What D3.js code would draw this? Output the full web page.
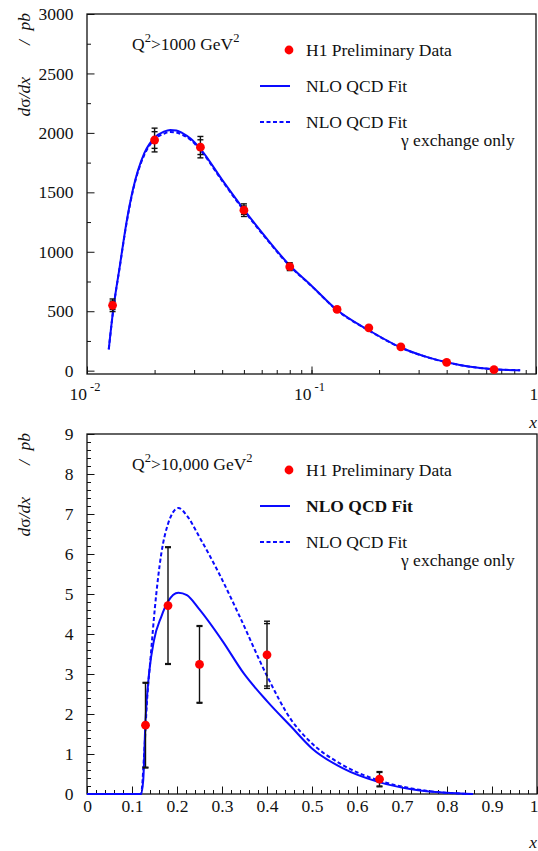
<!DOCTYPE html>
<html>
<head>
<meta charset="utf-8">
<script src="https://cdn.jsdelivr.net/npm/d3@7"></script>
<style>
  html, body { margin: 0; padding: 0; background: #fff; }
  svg { display: block; font-family: "Liberation Serif", "Times New Roman", serif; }
</style>
</head>
<body>
<div id="chart-area"></div>
<script>
// ---- data ----
// Q2 > 1000 GeV2 (log x)
const X_TOP = [0.013, 0.02, 0.032, 0.05, 0.08, 0.13, 0.18, 0.25, 0.40, 0.65];
const Y_TOP = [550, 1940, 1880, 1350, 875, 515, 360, 200, 70, 8];
const TOT_TOP = [53, 100, 90, 53, 33, 20, 15, 10, 6, 4];
const STAT_TOP = [35, 70, 62, 35, 20, 14, 10, 7, 4, 3];

const FIT_X_TOP = [0.0125, 0.0131, 0.014, 0.015, 0.016, 0.018, 0.020, 0.022, 0.0235, 0.025, 0.0265, 0.029, 0.032, 0.040, 0.050, 0.063, 0.080, 0.10, 0.13, 0.18, 0.25, 0.32, 0.40, 0.50, 0.65, 0.85];
const FIT_TOP = [180, 520, 880, 1250, 1520, 1830, 1960, 2010, 2025, 2020, 2000, 1950, 1865, 1605, 1355, 1115, 885, 715, 510, 340, 195, 120, 70, 35, 12, 4];
const GAMMA_TOP = [180, 515, 875, 1240, 1510, 1815, 1945, 1993, 2008, 2003, 1986, 1940, 1855, 1597, 1347, 1108, 880, 712, 508, 338, 194, 119, 70, 35, 12, 4];

// Q2 > 10,000 GeV2 (linear x)
const X_BOT = [0.13, 0.18, 0.25, 0.40, 0.65];
const Y_BOT = [1.72, 4.71, 3.24, 3.48, 0.37];
const TOT_BOT = [1.07, 1.47, 0.97, 0.84, 0.19];
const STAT_BOT = [1.05, 1.45, 0.95, 0.78, 0.17];

const FIT_X_BOT = [0, 0.12, 0.125, 0.13, 0.138, 0.149, 0.165, 0.18, 0.203, 0.222, 0.248, 0.302, 0.348, 0.401, 0.454, 0.50, 0.569, 0.645, 0.721, 0.797, 0.858];
const FIT_BOT = [0, 0, 0.35, 1.85, 3.02, 3.85, 4.43, 4.81, 5.03, 4.97, 4.64, 3.81, 3.02, 2.31, 1.68, 1.14, 0.64, 0.31, 0.12, 0.03, 0];
const GAMMA_X_BOT = [0, 0.12, 0.127, 0.133, 0.142, 0.151, 0.165, 0.18, 0.203, 0.222, 0.248, 0.294, 0.34, 0.401, 0.454, 0.492, 0.569, 0.645, 0.721, 0.797, 0.858];
const GAMMA_BOT = [0, 0, 1.0, 2.26, 3.5, 4.67, 6.0, 6.75, 7.15, 6.96, 6.46, 5.5, 4.42, 2.93, 1.85, 1.35, 0.72, 0.35, 0.14, 0.03, 0];

// ticks
const YTICKS_TOP = [0, 500, 1000, 1500, 2000, 2500, 3000];
const XTICKS_TOP = [0.01, 0.1, 1];
const XLABELS_TOP = [['10', '-2'], ['10', '-1'], ['1', '']];
const YTICKS_BOT = [0, 1, 2, 3, 4, 5, 6, 7, 8, 9];
const XTICKS_BOT = [0, 0.1, 0.2, 0.3, 0.4, 0.5, 0.6, 0.7, 0.8, 0.9, 1];
const XLABELS_BOT = ['0', '0.1', '0.2', '0.3', '0.4', '0.5', '0.6', '0.7', '0.8', '0.9', '1'];

const BLUE = '#0a0aff';
const RED = '#ff0000';
const FS = 17.5;
const SERIF = '"Liberation Serif", "Times New Roman", serif';

const svg = d3.select('#chart-area')
  .append('svg')
  .attr('width', 538)
  .attr('height', 851)
  .style('font-size', FS + 'px');

const drawPanel = (p) => {
  const g = svg.append('g');
  const x = p.x, y = p.y;
  const [x0, x1] = x.range();
  const [y0, y1] = y.range();

  // minor ticks
  g.append('g')
    .attr('transform', `translate(0,${y0})`)
    .call(d3.axisBottom(x).tickValues(p.xMinor).tickSize(-4).tickFormat(''))
    .call((a) => a.select('.domain').remove());
  g.append('g')
    .attr('transform', `translate(${x0},0)`)
    .call(d3.axisLeft(y).tickValues(p.yMinor).tickSize(-4).tickFormat(''))
    .call((a) => a.select('.domain').remove());

  // major ticks
  g.append('g')
    .attr('class', 'xmajor')
    .attr('transform', `translate(0,${y0})`)
    .call(d3.axisBottom(x).tickValues(p.xTicks).tickSize(-7.5).tickPadding(6)
      .tickFormat((d, i) => p.xLabels ? p.xLabels[i] : ''))
    .call((a) => a.select('.domain').remove());
  g.append('g')
    .attr('transform', `translate(${x0},0)`)
    .call(d3.axisLeft(y).tickValues(p.yTicks).tickSize(-7.5).tickPadding(13.5).tickFormat(d3.format('d')))
    .call((a) => a.select('.domain').remove());

  g.selectAll('g').attr('font-family', SERIF).attr('font-size', FS);
  g.selectAll('.tick text').attr('fill', '#111');
  g.selectAll('.tick line').attr('stroke', '#111');

  // keep the last label ("1") inside the picture
  g.selectAll('.xmajor .tick:last-of-type text')
    .attr('text-anchor', 'end')
    .attr('x', 538 - x1);

  if (p.logLabels) {
    g.selectAll('.logLabel')
      .data(p.xTicks)
      .enter()
      .append('text')
      .attr('class', 'logLabel')
      .attr('x', (d, i) => p.logLabels[i][1] ? x(d) - 17.5 : 529.5)
      .attr('y', y0 + 26)
      .attr('fill', '#111')
      .each(function (d, i) {
        const t = d3.select(this);
        t.append('tspan').text(p.logLabels[i][0]);
        if (p.logLabels[i][1]) {
          t.append('tspan')
            .attr('dx', 3)
            .attr('dy', -9)
            .attr('font-size', 12.5)
            .text(p.logLabels[i][1]);
        }
      });
  }

  // frame
  g.append('rect')
    .attr('x', x0).attr('y', y1)
    .attr('width', x1 - x0).attr('height', y0 - y1)
    .attr('fill', 'none')
    .attr('stroke', '#111')
    .attr('stroke-width', 1.3);

  // curves
  const line = d3.line()
    .x((d) => x(d[0]))
    .y((d) => y(d[1]))
    .curve(d3.curveMonotoneX);

  g.append('path')
    .attr('d', line(d3.zip(p.gx, p.gy)))
    .attr('fill', 'none')
    .attr('stroke', BLUE)
    .attr('stroke-width', 2)
    .attr('stroke-dasharray', '4 2.5');
  g.append('path')
    .attr('d', line(d3.zip(p.fx, p.fy)))
    .attr('fill', 'none')
    .attr('stroke', BLUE)
    .attr('stroke-width', 2);

  // error bars
  const pts = p.px.map((d, i) => ({ x: d, y: p.py[i], tot: p.tot[i], stat: p.stat[i] }));
  const eb = g.append('g').attr('stroke', '#111').attr('stroke-width', 1.4);
  eb.selectAll('.bar').data(pts).enter().append('line')
    .attr('x1', (d) => x(d.x)).attr('x2', (d) => x(d.x))
    .attr('y1', (d) => y(d.y + d.tot)).attr('y2', (d) => y(d.y - d.tot));
  [['tot', 1], ['tot', -1], ['stat', 1], ['stat', -1]].forEach(([k, s]) => {
    eb.selectAll('.cap-' + k + s).data(pts).enter().append('line')
      .attr('x1', (d) => x(d.x) - 3).attr('x2', (d) => x(d.x) + 3)
      .attr('y1', (d) => y(d.y + s * d[k])).attr('y2', (d) => y(d.y + s * d[k]));
  });

  g.selectAll('.dot').data(pts).enter().append('circle')
    .attr('cx', (d) => x(d.x))
    .attr('cy', (d) => y(d.y))
    .attr('r', 4.4)
    .attr('fill', RED);

  // labels
  const q = g.append('text').attr('x', 132).attr('y', y1 + 36).attr('fill', '#111');
  q.append('tspan').text('Q');
  q.append('tspan').attr('dy', -8).attr('font-size', 12.5).text('2');
  q.append('tspan').attr('dy', 8).text(p.qText);
  q.append('tspan').attr('dy', -8).attr('font-size', 12.5).text('2');

  // legend
  g.append('circle').attr('cx', 289).attr('cy', y1 + 36).attr('r', 4.4).attr('fill', RED);
  g.append('text').attr('x', 306).attr('y', y1 + 42).attr('fill', '#111').text('H1 Preliminary Data');
  g.append('line').attr('x1', 260).attr('x2', 290).attr('y1', y1 + 72).attr('y2', y1 + 72)
    .attr('stroke', BLUE).attr('stroke-width', 2);
  g.append('text').attr('x', 306).attr('y', y1 + 78).attr('fill', '#111')
    .attr('font-weight', p.boldFit ? 'bold' : 'normal').text('NLO QCD Fit');
  g.append('line').attr('x1', 260).attr('x2', 290).attr('y1', y1 + 108).attr('y2', y1 + 108)
    .attr('stroke', BLUE).attr('stroke-width', 2).attr('stroke-dasharray', '4 2.5');
  g.append('text').attr('x', 306).attr('y', y1 + 114).attr('fill', '#111').text('NLO QCD Fit');
  g.append('text').attr('x', 401).attr('y', y1 + 132).attr('fill', '#111').text('γ exchange only');

  // axis titles
  const rotText = (yEnd, txt) => g.append('text')
    .attr('transform', `translate(29.5,${yEnd}) rotate(-90)`)
    .attr('text-anchor', 'end')
    .attr('font-style', 'italic')
    .attr('fill', '#111')
    .text(txt);
  rotText(y1 - 1, 'pb');
  rotText(y1 + 26, '/');
  const yt = rotText(y1 + 63, '');
  yt.append('tspan').text('d');
  yt.append('tspan').attr('font-style', 'normal').text('σ');
  yt.append('tspan').text('/dx');
  g.append('text')
    .attr('x', 537).attr('y', y0 + 54)
    .attr('text-anchor', 'end')
    .attr('font-style', 'italic')
    .attr('fill', '#111')
    .text('x');
};

// top panel
const xTop = d3.scaleLog().domain([0.01, 1]).range([87, 536]);
const yTop = d3.scaleLinear().domain([-28, 3000]).range([374, 14]);
drawPanel({
  x: xTop,
  y: yTop,
  xTicks: XTICKS_TOP,
  xMinor: xTop.ticks(),
  logLabels: XLABELS_TOP,
  yTicks: YTICKS_TOP,
  yMinor: d3.range(250, 3000, 500),
  px: X_TOP, py: Y_TOP, tot: TOT_TOP, stat: STAT_TOP,
  fx: FIT_X_TOP, fy: FIT_TOP,
  gx: FIT_X_TOP, gy: GAMMA_TOP,
  qText: '>1000 GeV',
  boldFit: false,
});

// bottom panel
const xBot = d3.scaleLinear().domain([0, 1]).range([87, 537]);
const yBot = d3.scaleLinear().domain([0, 9]).range([794, 434]);
drawPanel({
  x: xBot,
  y: yBot,
  xTicks: XTICKS_BOT,
  xLabels: XLABELS_BOT,
  xMinor: xBot.ticks(50),
  yTicks: YTICKS_BOT,
  yMinor: yBot.ticks(45),
  px: X_BOT, py: Y_BOT, tot: TOT_BOT, stat: STAT_BOT,
  fx: FIT_X_BOT, fy: FIT_BOT,
  gx: GAMMA_X_BOT, gy: GAMMA_BOT,
  qText: '>10,000 GeV',
  boldFit: true,
});
</script>
</body>
</html>
